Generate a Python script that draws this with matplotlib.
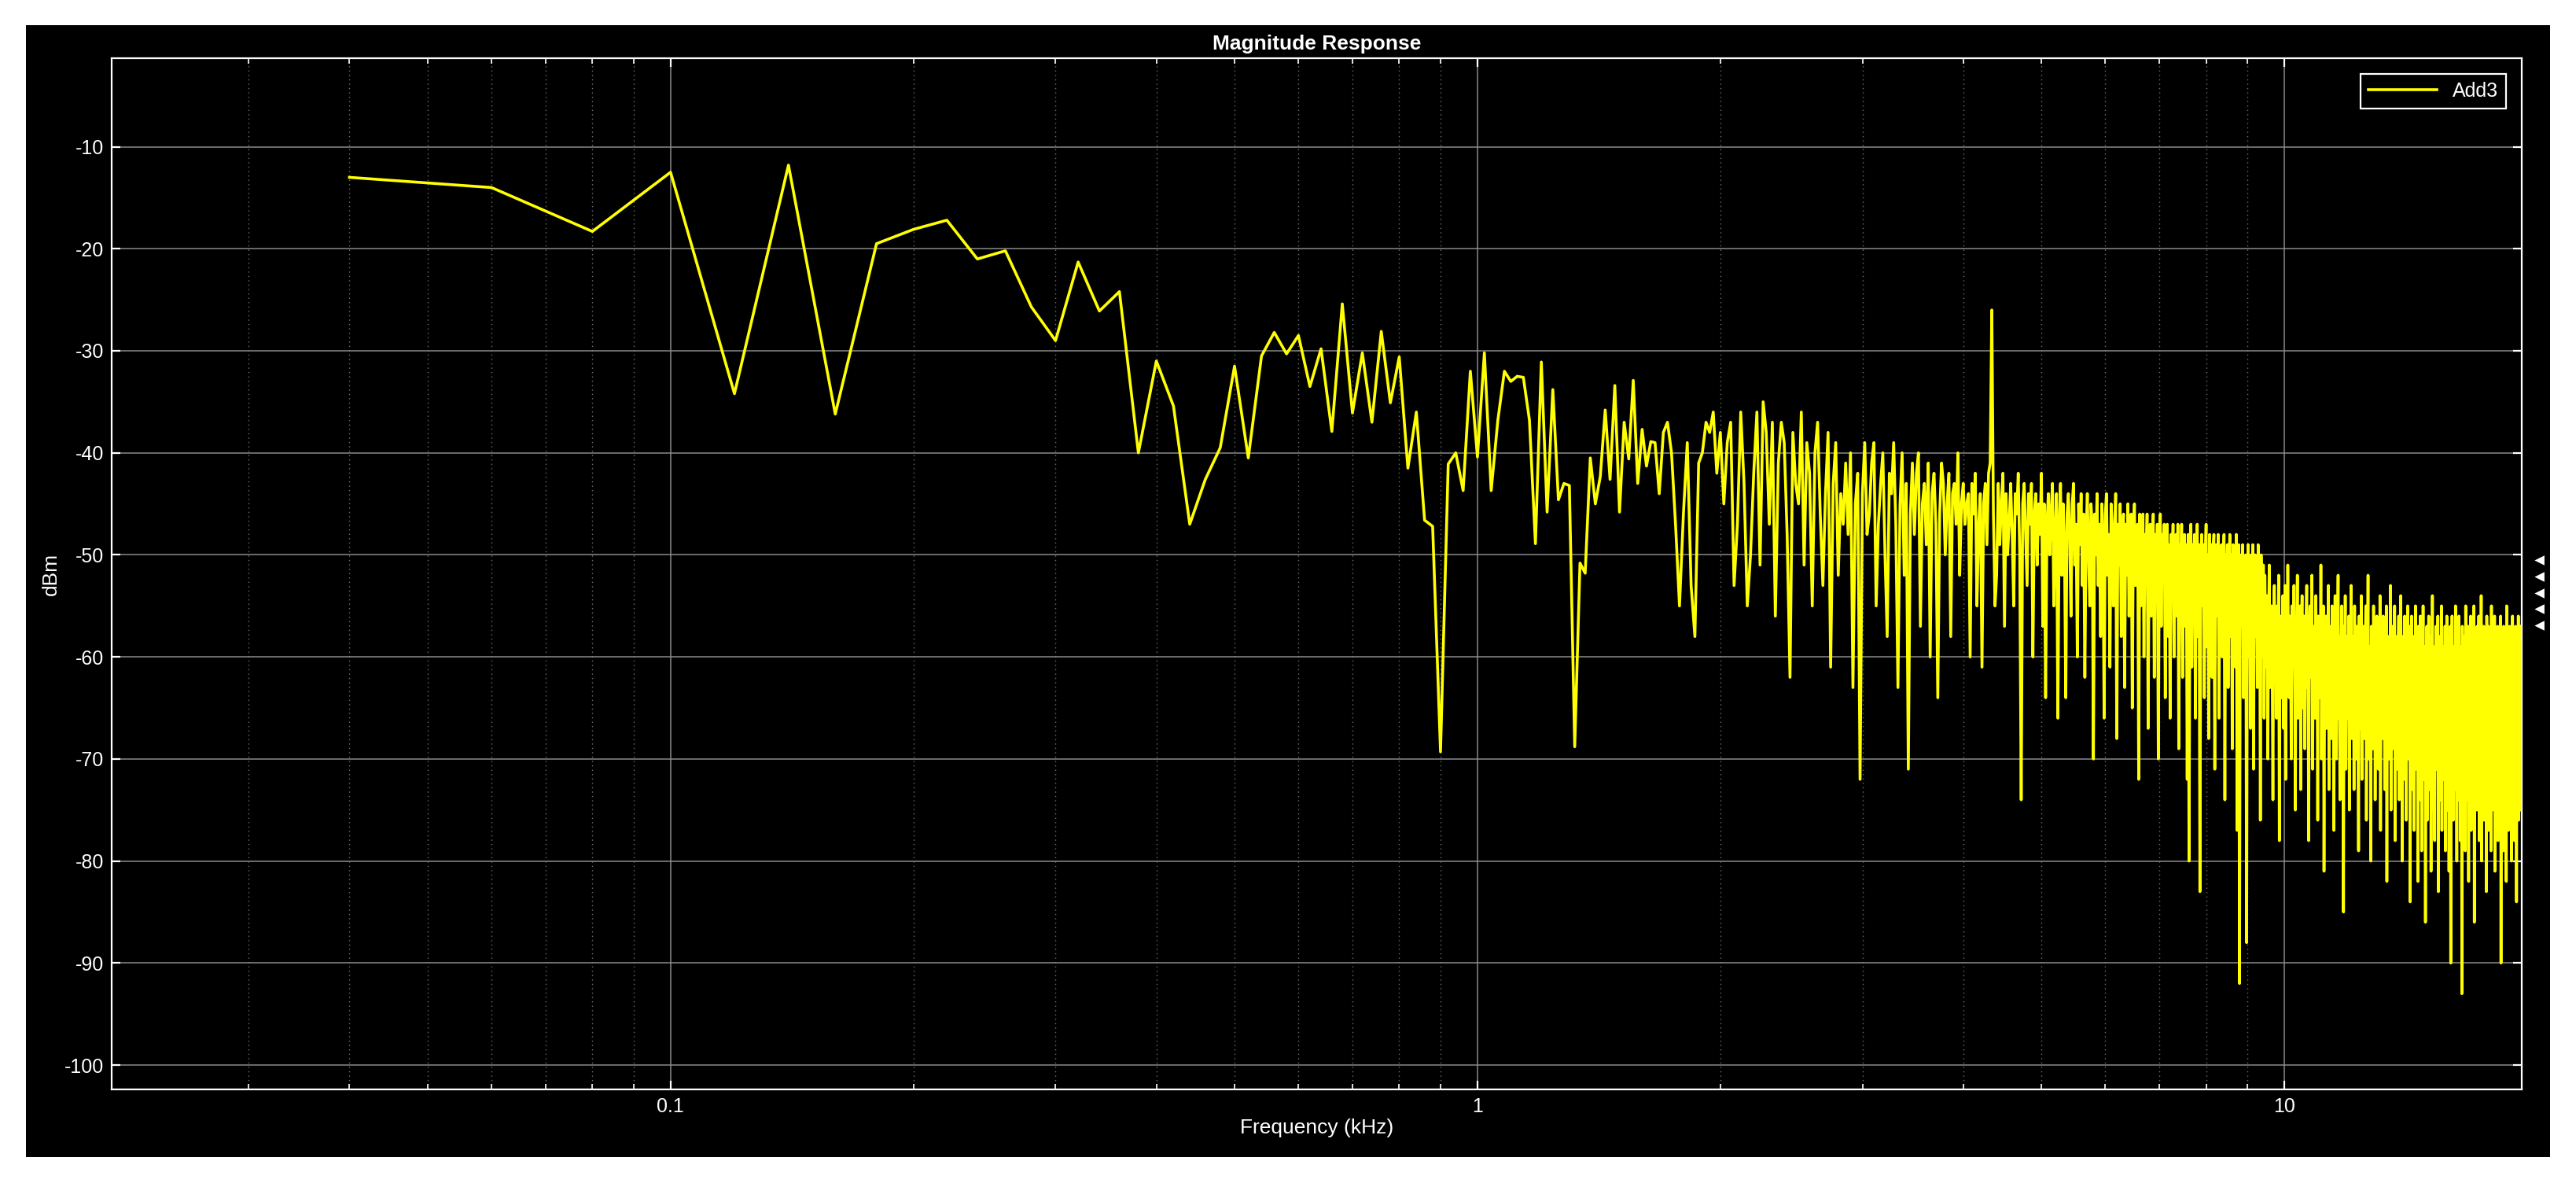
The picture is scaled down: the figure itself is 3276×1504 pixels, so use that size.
import numpy as np
import matplotlib
matplotlib.use("Agg")
import matplotlib.pyplot as plt
from matplotlib.patches import Rectangle
from matplotlib.ticker import FixedLocator, LogLocator, NullFormatter

plt.rcParams['font.family'] = ['Liberation Sans', 'DejaVu Sans']

f_start_khz = 0.04
f_step_khz = 0.02

mag_low = [-13, -14, -18.3, -12.5, -34.2, -11.8, -36.2, -19.5, -18.1, -17.2,
           -21, -20.2, -25.7, -29, -21.3, -26.1, -24.2, -40, -31, -35.4,
           -47, -42.6, -39.5, -31.5, -40.5, -30.5, -28.2, -30.3, -28.5, -33.5,
           -29.8, -37.9, -25.4, -36.1, -30.2, -37, -28.1, -35.1, -30.6, -41.5,
           -36, -46.6, -47.2, -69.3, -41.1, -40, -43.7, -32, -40.4, -30.2,
           -43.7, -36.8, -32, -33, -32.5, -32.6, -36.8, -48.9, -31.1, -45.8,
           -33.8, -44.6, -43, -43.2, -68.8, -50.8, -51.8, -40.5, -45, -42.3,
           -35.8, -42.6, -33.4, -45.8, -37, -40.6, -32.9, -43, -37.7, -41.3,
           -38.9]

mag_high_rows = """
-39 -44 -38 -37 -40 -47 -55 -46 -39 -53 -58 -41 -40 -37 -38 -36 -42 -38 -45 -39 -37 -53 -47 -36 -43 -55 -50 -42 -36 -51
-35 -38 -47 -37 -56 -41 -37 -39 -48 -62 -38 -43 -45 -36 -51 -39 -42 -55 -40 -37 -46 -53 -44 -38 -61 -43 -39 -52 -44 -47
-41 -48 -40 -63 -45 -42 -72 -44 -39 -48 -46 -41 -39 -55 -47 -43 -40 -50 -58 -42 -44 -39 -47 -63 -45 -40 -52 -43 -71 -46
-41 -48 -42 -40 -57 -45 -43 -49 -41 -60 -44 -42 -47 -64 -46 -41 -43 -50 -45 -42 -58 -44 -43 -47 -40 -52 -45 -43 -47 -45
-44 -60 -43 -46 -42 -55 -47 -44 -61 -45 -43 -49 -42 -41 -26 -46 -55 -52 -43 -49 -45 -42 -57 -44 -50 -47 -43 -48 -55 -44
-46 -42 -50 -74 -45 -43 -48 -53 -44 -47 -43 -60 -46 -44 -51 -45 -48 -42 -57 -45 -64 -47 -44 -50 -46 -43 -55 -48 -44 -66
-47 -43 -52 -45 -49 -64 -46 -44 -48 -56 -45 -43 -51 -47 -60 -45 -49 -44 -53 -46 -62 -48 -44 -50 -55 -45 -47 -70 -46 -50
-44 -53 -47 -58 -45 -49 -66 -46 -44 -52 -48 -61 -45 -47 -55 -49 -44 -68 -47 -51 -45 -58 -48 -46 -63 -47 -52 -45 -56 -49
-46 -65 -48 -45 -53 -50 -47 -72 -46 -55 -49 -46 -60 -48 -51 -46 -67 -49 -47 -56 -50 -46 -62 -48 -53 -47 -70 -49 -46 -57
-48 -52 -47 -64 -50 -47 -58 -49 -66 -48 -51 -47 -60 -50 -48 -56 -47 -69 -49 -52 -47 -62 -50 -48 -57 -49 -72 -48 -80 -50
-47 -61 -49 -53 -48 -66 -50 -47 -58 -49 -83 -51 -48 -55 -49 -64 -50 -47 -59 -50 -68 -48 -52 -49 -62 -50 -48 -71 -51 -49
-56 -48 -66 -50 -53 -49 -60 -51 -48 -74 -50 -54 -49 -63 -51 -48 -58 -50 -69 -49 -53 -50 -61 -48 -77 -51 -49 -92 -52 -50
-57 -49 -64 -51 -55 -50 -88 -52 -49 -60 -51 -67 -50 -54 -49 -71 -52 -50 -58 -51 -63 -49 -55 -52 -76 -50 -53 -60 -51 -66
-52 -58 -61 -54 -70 -57 -51 -63 -59 -55 -60 -74 -56 -53 -62 -58 -66 -55 -60 -52 -78 -59 -56 -64 -61 -54 -67 -58 -53 -72
-57 -62 -51 -60 -64 -56 -59 -70 -55 -61 -58 -53 -63 -75 -57 -60 -52 -66 -59 -62 -55 -73 -58 -54 -61 -65 -56 -69 -60 -57
-53 -63 -59 -78 -58 -55 -62 -60 -52 -71 -61 -57 -64 -66 -54 -60 -58 -76 -56 -62 -59 -64 -51 -70 -60 -58 -55 -81 -61 -63
-56 -67 -58 -60 -53 -73 -62 -59 -57 -68 -55 -61 -63 -77 -58 -54 -62 -70 -59 -57 -52 -66 -61 -74 -58 -60 -55 -69 -62 -85
-57 -62 -54 -71 -60 -58 -63 -66 -56 -75 -59 -61 -53 -68 -62 -58 -60 -73 -55 -63 -61 -70 -57 -60 -64 -79 -56 -62 -59 -67
-54 -72 -61 -60 -57 -68 -63 -58 -55 -76 -62 -60 -52 -70 -59 -64 -61 -80 -57 -65 -60 -69 -55 -62 -58 -74 -63 -61 -56 -67
-60 -71 -57 -62 -54 -77 -61 -64 -58 -68 -56 -61 -63 -73 -59 -60 -55 -82 -62 -66 -58 -70 -60 -62 -53 -75 -61 -64 -57 -69
-59 -62 -55 -78 -61 -66 -58 -71 -63 -60 -56 -74 -60 -67 -54 -62 -61 -80 -58 -65 -62 -72 -56 -64 -60 -76 -59 -63 -55 -70
-62 -65 -57 -84 -60 -69 -56 -73 -61 -62 -58 -77 -63 -66 -55 -71 -60 -64 -59 -82 -57 -68 -62 -74 -56 -63 -61 -79 -58 -67
-55 -72 -61 -65 -59 -86 -62 -70 -57 -76 -60 -63 -56 -73 -61 -68 -58 -81 -63 -66 -54 -75 -60 -64 -59 -78 -62 -69 -57 -71
-60 -65 -56 -83 -62 -70 -58 -74 -61 -63 -55 -77 -60 -68 -59 -72 -62 -66 -57 -79 -61 -64 -56 -75 -60 -69 -58 -81 -63 -67
-57 -90 -61 -71 -56 -65 -62 -76 -59 -69 -60 -73 -55 -64 -61 -80 -58 -68 -62 -74 -56 -66 -60 -78 -59 -70 -62 -93 -57 -67
-61 -72 -58 -65 -60 -79 -55 -69 -62 -74 -59 -66 -57 -82 -61 -70 -60 -64 -56 -77 -62 -68 -58 -73 -60 -65 -55 -86 -61 -71
-58 -67 -62 -75 -57 -69 -60 -64 -56 -78 -61 -70 -59 -66 -54 -80 -62 -72 -60 -65 -57 -76 -61 -68 -58 -74 -60 -83 -56 -69
-61 -65 -57 -77 -62 -70 -59 -66 -60 -79 -55 -71 -61 -64 -58 -75 -62 -68 -56 -81 -60 -69 -59 -73 -61 -66 -57 -78 -62 -70
-58 -67 -60 -76 -56 -90 -61 -71 -59 -65 -62 -79 -57 -69 -60 -74 -58 -66 -61 -82 -55 -70 -62 -64 -59 -77 -60 -68 -57 -73
-61 -66 -58 -80 -60 -69 -56 -75 -62 -64 -59 -78 -60 -70 -57 -67 -61 -84 -58 -71 -62 -65 -56 -76 -60 -69 -58 -73 -57 -60
-57 -75
"""
mag_high = [float(v) for v in mag_high_rows.split()]

y_ticks = [-100, -90, -80, -70, -60, -50, -40, -30, -20, -10]
x_ticks = [0.1, 1, 10]
x_tick_labels = ["0.1", "1", "10"]

mag = np.array(mag_low + mag_high)
freq = f_start_khz + f_step_khz * np.arange(len(mag))

fig = plt.figure(figsize=(16.38, 7.52), dpi=200, facecolor='white')
bg = Rectangle((0.010, 0.022), 0.980, 0.957, transform=fig.transFigure,
               facecolor='black', edgecolor='none', zorder=-10)
fig.add_artist(bg)
ax = fig.add_axes([0.0434, 0.079, 0.9356, 0.872])
ax.set_zorder(1)
ax.set_facecolor('black')
ax.plot(freq, mag, color='#ffff00', lw=1.3, label='Add3')
ax.set_xscale('log')
ax.set_xlim(0.0203, 19.7)
ax.set_ylim(-102.4, -1.3)
ax.xaxis.set_major_locator(FixedLocator(x_ticks))
ax.set_xticklabels(x_tick_labels)
ax.xaxis.set_minor_locator(LogLocator(base=10, subs=np.arange(2, 10)))
ax.xaxis.set_minor_formatter(NullFormatter())
ax.set_yticks(y_ticks)
ax.set_yticklabels([str(t) for t in y_ticks])
ax.grid(True, which='major', color='#8c8c8c', lw=0.6, alpha=0.9)
ax.grid(True, which='minor', axis='x', color='#8c8c8c', lw=0.5, ls=(0, (1, 3)), alpha=0.8)
for s in ax.spines.values():
    s.set_color('white')
    s.set_linewidth(0.8)
ax.tick_params(axis='both', which='both', direction='in', colors='white', labelsize=9,
               top=True, right=True)
ax.tick_params(which='major', length=4)
ax.tick_params(which='minor', length=2.5)
ax.set_xlabel('Frequency (kHz)', color='white', fontsize=9.5, labelpad=1)
ax.set_ylabel('dBm', color='white', fontsize=9.5, labelpad=2)
ax.set_title('Magnitude Response', color='white', fontsize=9.5, fontweight='bold', pad=4)
leg = ax.legend(loc='upper right', fontsize=9, facecolor='black', edgecolor='white',
                labelcolor='white', fancybox=False, framealpha=1, handlelength=3.5,
                borderaxespad=0.8)
leg.get_frame().set_linewidth(0.8)
for yy in np.linspace(0.513, 0.45, 5):
    ax.plot([1.0075], [yy], marker='<', color='white', ms=3, transform=ax.transAxes,
            clip_on=False, ls='none')
fig.savefig('out.png', dpi=200, facecolor='white')
